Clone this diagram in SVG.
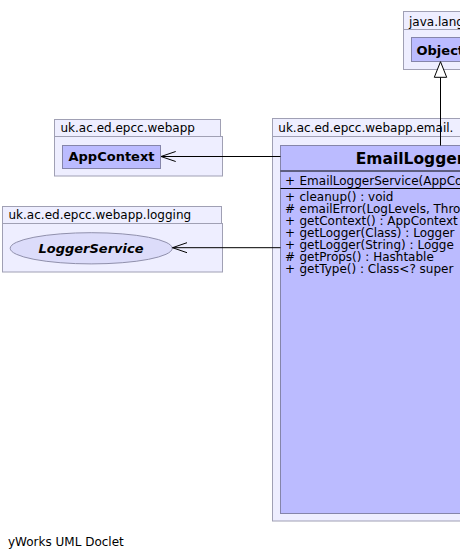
<svg xmlns="http://www.w3.org/2000/svg" width="460" height="559" viewBox="0 0 460 559">
<style>
.pkg{fill:#EEEEFF;stroke:#A0A0B4;stroke-width:1}
.cls{fill:#BBBBFF;stroke:#8585AA;stroke-width:1}
.t{font-family:"DejaVu Sans",sans-serif;font-size:12px;fill:#000}
.b{font-family:"DejaVu Sans",sans-serif;font-size:13px;font-weight:bold;fill:#000}
.n{font-family:"DejaVu Sans",sans-serif;font-size:15.5px;font-weight:bold;fill:#000}
.sep{stroke:#000;stroke-width:1}
.edge{stroke:#000;stroke-width:1;fill:none}
</style>
<rect width="460" height="559" fill="#FFFFFF"/>
<g id="pkg-java-lang">
<rect class="pkg" x="403.5" y="11.5" width="80" height="18"/>
<rect class="pkg" x="403.5" y="29.5" width="80" height="40"/>
<text class="t" x="409" y="25.5">java.lang</text>
</g>
<g id="node-Object">
<rect class="cls" x="411.5" y="37.5" width="70" height="24"/>
<text class="b" x="416.5" y="54.5">Object</text>
</g>
<g id="pkg-webapp">
<rect class="pkg" x="54.5" y="119.5" width="166" height="17"/>
<rect class="pkg" x="54.5" y="136.5" width="168" height="39.5"/>
<text class="t" x="60.5" y="131.5">uk.ac.ed.epcc.webapp</text>
</g>
<g id="node-AppContext">
<rect class="cls" x="62.5" y="145.5" width="98" height="23"/>
<text class="b" x="68.5" y="161">AppContext</text>
</g>
<g id="pkg-logging">
<rect class="pkg" x="2.5" y="206.5" width="219" height="17"/>
<rect class="pkg" x="2.5" y="223.5" width="220" height="48.5"/>
<text class="t" x="8.5" y="219">uk.ac.ed.epcc.webapp.logging</text>
</g>
<g id="node-LoggerService">
<ellipse cx="91.2" cy="248.3" rx="81" ry="15.6" fill="#DCDCFA" stroke="#9090AC" stroke-width="1"/>
<text class="b" x="91" y="252.8" text-anchor="middle" font-style="italic">LoggerService</text>
</g>
<g id="pkg-email">
<rect class="pkg" x="272.5" y="118.5" width="320" height="18"/>
<rect class="pkg" x="272.5" y="136.5" width="320" height="384.5"/>
<text class="t" x="278.3" y="131.5">uk.ac.ed.epcc.webapp.email.</text>
</g>
<g id="node-EmailLogger">
<rect class="cls" x="280.5" y="145.5" width="300" height="368"/>
<line class="sep" x1="280.5" y1="171" x2="580" y2="171"/>
<line class="sep" x1="280.5" y1="188.5" x2="580" y2="188.5"/>
<text class="n" x="355.7" y="164">EmailLogger</text>
<text class="t" x="285" y="185.3">+</text><text class="t" x="299.5" y="185.3">EmailLoggerService(AppCo</text>
<text class="t" x="285" y="200.8">+</text><text class="t" x="299.5" y="200.8">cleanup() : void</text>
<text class="t" x="285" y="212.9">#</text><text class="t" x="299.5" y="212.9">emailError(LogLevels, Thro</text>
<text class="t" x="285" y="225">+</text><text class="t" x="299.5" y="225">getContext() : AppContext</text>
<text class="t" x="285" y="237.1">+</text><text class="t" x="299.5" y="237.1">getLogger(Class) : Logger</text>
<text class="t" x="285" y="249.2">+</text><text class="t" x="299.5" y="249.2">getLogger(String) : Logge</text>
<text class="t" x="285" y="261.3">#</text><text class="t" x="299.5" y="261.3">getProps() : Hashtable</text>
<text class="t" x="285" y="273.4">+</text><text class="t" x="299.5" y="273.4">getType() : Class&lt;? super</text>
</g>
<g id="connectors">
<line class="edge" x1="440.5" y1="145.5" x2="440.5" y2="77.3"/>
<polygon points="440.5,61.7 434.3,77.3 446.7,77.3" fill="#FFFFFF" stroke="#000" stroke-width="1"/>
<line class="edge" x1="280.5" y1="156.5" x2="161" y2="156.5"/>
<polyline class="edge" points="175.7,151.5 161,156.5 175.7,161.5"/>
<line class="edge" x1="280.5" y1="247.7" x2="172.5" y2="247.7"/>
<polyline class="edge" points="187,242.7 172.5,247.7 187,252.7"/>
</g>
<text class="t" x="8" y="546">yWorks UML Doclet</text>
</svg>
